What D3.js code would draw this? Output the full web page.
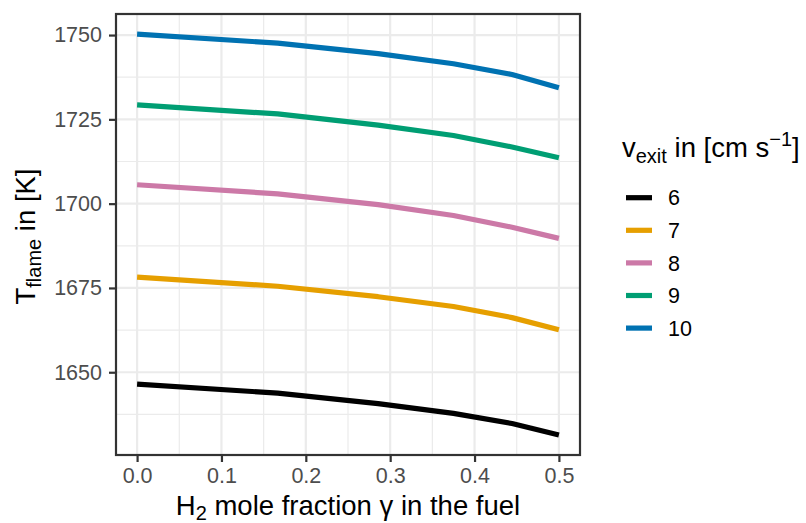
<!DOCTYPE html>
<html>
<head>
<meta charset="utf-8">
<script src="https://cdn.jsdelivr.net/npm/d3@7"></script>
<style>
  html, body { margin: 0; padding: 0; background: #fff; }
  svg { display: block; }
  text { font-family: "Liberation Sans", Arial, Helvetica, sans-serif; }
</style>
</head>
<body>
<svg id="chart" width="806" height="523"></svg>
<script>
// ---- data ----
const gamma = [0, 0.2/1.2, 0.4/1.4, 0.6/1.6, 0.8/1.8, 0.5];
const vexit = ["6", "7", "8", "9", "10"];
const T6  = [1646.5, 1643.8, 1640.7, 1637.8, 1634.8, 1631.4];
const T7  = [1678.2, 1675.5, 1672.4, 1669.5, 1666.2, 1662.6];
const T8  = [1705.6, 1702.9, 1699.7, 1696.5, 1693.0, 1689.7];
const T9  = [1729.3, 1726.6, 1723.3, 1720.2, 1716.8, 1713.6];
const T10 = [1750.3, 1747.6, 1744.5, 1741.5, 1738.3, 1734.4];
const seriesValues = [T6, T7, T8, T9, T10];
const colors = ["#000000", "#E69F00", "#CC79A7", "#009E73", "#0072B2"];
const xTicks = [0, 0.1, 0.2, 0.3, 0.4, 0.5];
const yTicks = [1650, 1675, 1700, 1725, 1750];
const xMinor = [0.05, 0.15, 0.25, 0.35, 0.45];
const yMinor = [1637.5, 1662.5, 1687.5, 1712.5, 1737.5];

const series = vexit.map((v, i) => ({
  key: v, color: colors[i],
  values: gamma.map((g, j) => ({x: g, y: seriesValues[i][j]}))
}));

// ---- layout ----
const P = {left: 116, right: 580, top: 14, bottom: 455};
const svg = d3.select("#chart");

const allY = seriesValues.flat();
const yMin = d3.min(allY), yMax = d3.max(allY);
const yPad = (yMax - yMin) * 0.05;
const xPad = 0.5 * 0.05;

const x = d3.scaleLinear().domain([0 - xPad, 0.5 + xPad]).range([P.left, P.right]);
const y = d3.scaleLinear().domain([yMin - yPad, yMax + yPad]).range([P.bottom, P.top]);

svg.append("rect").attr("x", P.left).attr("y", P.top)
  .attr("width", P.right - P.left).attr("height", P.bottom - P.top).attr("fill", "#fff");

// grid
const grid = svg.append("g");
grid.selectAll(".xm").data(xMinor).join("line")
  .attr("x1", d => x(d)).attr("x2", d => x(d)).attr("y1", P.top).attr("y2", P.bottom)
  .attr("stroke", "#EBEBEB").attr("stroke-width", 1.2);
grid.selectAll(".ym").data(yMinor).join("line")
  .attr("y1", d => y(d)).attr("y2", d => y(d)).attr("x1", P.left).attr("x2", P.right)
  .attr("stroke", "#EBEBEB").attr("stroke-width", 1.2);
grid.selectAll(".xM").data(xTicks).join("line")
  .attr("x1", d => x(d)).attr("x2", d => x(d)).attr("y1", P.top).attr("y2", P.bottom)
  .attr("stroke", "#EBEBEB").attr("stroke-width", 2.2);
grid.selectAll(".yM").data(yTicks).join("line")
  .attr("y1", d => y(d)).attr("y2", d => y(d)).attr("x1", P.left).attr("x2", P.right)
  .attr("stroke", "#EBEBEB").attr("stroke-width", 2.2);

// lines
const line = d3.line().x(d => x(d.x)).y(d => y(d.y));
svg.append("g").selectAll("path").data(series).join("path")
  .attr("d", d => line(d.values))
  .attr("fill", "none").attr("stroke", d => d.color)
  .attr("stroke-width", 5.2).attr("stroke-linejoin", "round");

// border
svg.append("rect").attr("x", P.left).attr("y", P.top)
  .attr("width", P.right - P.left).attr("height", P.bottom - P.top)
  .attr("fill", "none").attr("stroke", "#333333").attr("stroke-width", 2.2);

// axes
const xAxis = d3.axisBottom(x).tickValues(xTicks).tickFormat(d3.format(".1f")).tickSize(7).tickPadding(6);
const yAxis = d3.axisLeft(y).tickValues(yTicks).tickFormat(d3.format("d")).tickSize(7).tickPadding(7);

const gx = svg.append("g").attr("transform", `translate(0,${P.bottom})`).call(xAxis);
const gy = svg.append("g").attr("transform", `translate(${P.left},0)`).call(yAxis);
[gx, gy].forEach(g => {
  g.select(".domain").remove();
  g.selectAll(".tick line").attr("stroke", "#333333").attr("stroke-width", 2.2);
  g.selectAll(".tick text").attr("fill", "#4D4D4D").style("font-size", "21.5px")
    .style("font-family", "'Liberation Sans', Arial, sans-serif");
});

// axis titles
const xt = svg.append("text").attr("x", (P.left + P.right) / 2).attr("y", 515)
  .attr("text-anchor", "middle").style("font-size", "27.5px").attr("fill", "#000");
xt.append("tspan").text("H");
xt.append("tspan").text("2").style("font-size", "20px").attr("dy", 5);
xt.append("tspan").text(" mole fraction γ in the fuel").attr("dy", -5);

const yt = svg.append("text")
  .attr("transform", `translate(35,${(P.top + P.bottom) / 2 + 2}) rotate(-90)`)
  .attr("text-anchor", "middle").style("font-size", "27.5px").attr("fill", "#000");
yt.append("tspan").text("T");
yt.append("tspan").text("flame").style("font-size", "20px").attr("dy", 6);
yt.append("tspan").text(" in [K]").attr("dy", -6);

// legend
const lg = svg.append("g");
const lt = lg.append("text").attr("x", 622).attr("y", 157).style("font-size", "27.5px").attr("fill", "#000");
lt.append("tspan").text("v");
lt.append("tspan").text("exit").style("font-size", "20px").attr("dy", 6);
lt.append("tspan").text(" in [cm s").attr("dy", -6);
lt.append("tspan").text("−1").style("font-size", "20px").attr("dy", -11);
lt.append("tspan").text("]").attr("dy", 11);

const items = lg.selectAll(".item").data(series).join("g")
  .attr("transform", (d, i) => `translate(0,${197.7 + i * 32.6})`);
items.append("line").attr("x1", 626).attr("x2", 652).attr("y1", 0).attr("y2", 0)
  .attr("stroke", d => d.color).attr("stroke-width", 5.2);
items.append("text").attr("x", 668).attr("y", 0).attr("dy", "0.36em")
  .style("font-size", "21.5px").attr("fill", "#000").text(d => d.key);
</script>
</body>
</html>
